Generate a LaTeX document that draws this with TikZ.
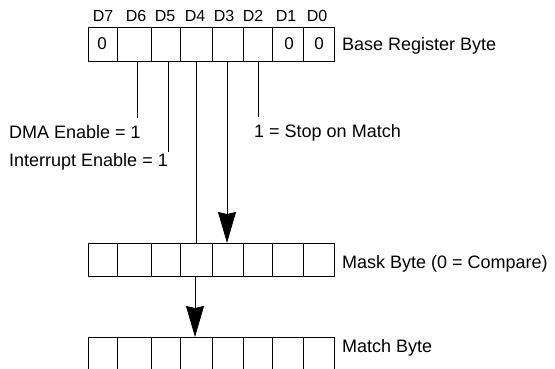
\documentclass[tikz,border=0pt]{standalone}
\usepackage{fontspec}
\setmainfont{Liberation Sans}
\usetikzlibrary{arrows.meta}
\begin{document}
\begin{tikzpicture}[x=1pt,y=-1pt,
  box/.style={draw=black,line width=0.9pt},
  lbl/.style={font=\fontsize{18}{21}\selectfont,inner sep=0pt,anchor=base west},
  bitlbl/.style={font=\fontsize{16}{19}\selectfont,inner sep=0pt,anchor=base},
  val/.style={font=\fontsize{17}{20}\selectfont,inner sep=0pt,anchor=base},
  wire/.style={draw=black,line width=0.9pt},
  bigarrow/.style={wire,-{Stealth[length=31pt,width=18pt,inset=2pt]}}]
\useasboundingbox (0,0) rectangle (555,369);
% byte rows
\foreach \a/\b in {88/117,117/151,151/180,180/212,212/243,243/272,272/303,303/334} {
  \draw[box] (\a,27) rectangle (\b,61);
  \draw[box] (\a,243) rectangle (\b,276);
  \draw[box] (\a,369) -- (\a,337) -- (\b,337) -- (\b,369);
}
% bit labels
\foreach \x/\t in {103/D7,136/D6,165/D5,195/D4,224/D3,253/D2,286/D1,317/D0}
  \node[bitlbl] (b\t) at (\x,22) {\t};
% values
\node[val] (v7) at (102,50) {0};
\node[val] (v1) at (289,50) {0};
\node[val] (v0) at (319,50) {0};
% row labels
\node[lbl] (base) at (342,51) {Base Register Byte};
\node[lbl] (mask) at (342,268) {Mask Byte (0 = Compare)};
\node[lbl] (match) at (342,352) {Match Byte};
% bit meaning labels
\node[lbl] (dma) at (9,139) {DMA Enable = 1};
\node[lbl] (intr) at (9,167) {Interrupt Enable = 1};
\node[lbl] (stop) at (254,138) {1 = Stop on Match};
% connector coordinates
\coordinate (r6) at (137,61); \coordinate (e6) at (137,118);
\coordinate (r5) at (168,61); \coordinate (e5) at (168,152);
\coordinate (r2) at (258,61); \coordinate (e2) at (258,117);
\coordinate (r4) at (196,61); \coordinate (m4) at (196,243);
\coordinate (r3) at (227,61); \coordinate (m3) at (227,243);
\coordinate (mb) at (195,277); \coordinate (tt) at (195,337);
\draw[wire] (r6) -- (e6);
\draw[wire] (r5) -- (e5);
\draw[wire] (r2) -- (e2);
\draw[wire] (r4) -- (m4);
\draw[bigarrow] (r3) -- (m3);
\draw[bigarrow] (mb) -- (tt);
\end{tikzpicture}
\end{document}
